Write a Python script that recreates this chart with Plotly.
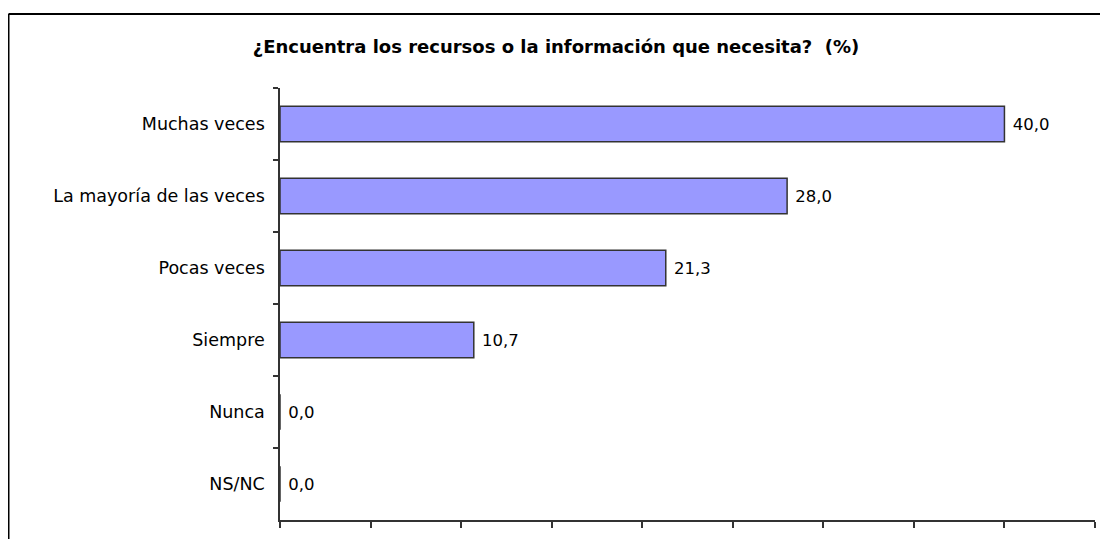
import plotly.graph_objects as go

categories = ["Muchas veces", "La mayoría de las veces", "Pocas veces", "Siempre", "Nunca", "NS/NC"]
values = [40.0, 28.0, 21.3, 10.7, 0.0, 0.0]
labels = ["40,0", "28,0", "21,3", "10,7", "0,0", "0,0"]
title = "¿Encuentra los recursos o la información que necesita?  (%)"

# page has an 8px body margin, so the figure is placed at (8, 8)
W, H = 1100, 531
L, R, T, B = 272, 13, 80, 19
pw, ph = W - L - R, H - T - B
FONT = "DejaVu Sans, Verdana, sans-serif"

fig = go.Figure(go.Bar(
    y=categories, x=values, orientation="h",
    text=[" " + s for s in labels], textposition="outside",
    textfont=dict(family=FONT, size=16.5, color="#000"),
    marker=dict(color="#9999FF", line=dict(color="#333333", width=1.5)),
    cliponaxis=False,
))

fig.update_layout(
    width=W, height=H,
    margin=dict(l=L, r=R, t=T, b=B),
    paper_bgcolor="white", plot_bgcolor="white",
    bargap=0.51, showlegend=False,
    title=dict(text="<b>" + title + "</b>", x=548 / W, xanchor="center",
               y=1 - 39 / H, yanchor="middle",
               font=dict(family=FONT, size=18, color="#000")),
    font=dict(family=FONT, size=17.5, color="#000"),
)
fig.update_xaxes(range=[0, 45], dtick=5, tick0=0, showgrid=False, zeroline=False,
                 showline=True, linecolor="#333", linewidth=1.5,
                 ticks="outside", ticklen=6, tickcolor="#333", tickwidth=1.5,
                 showticklabels=False, fixedrange=True)
fig.update_yaxes(autorange="reversed", showgrid=False, zeroline=False,
                 showline=True, linecolor="#333", linewidth=1.5,
                 ticks="outside", ticklen=5, tickcolor="#333", tickwidth=1.5,
                 tickson="boundaries", ticklabelstandoff=10,
                 tickfont=dict(family=FONT, size=17.5, color="#000"))

fx = (0.5 - L) / pw
fy = 1 + (T - 6) / ph
fig.add_shape(type="line", xref="paper", yref="paper", x0=fx, x1=fx, y0=fy, y1=-0.2,
              line=dict(color="#000", width=2))
fig.add_shape(type="line", xref="paper", yref="paper", x0=fx, x1=1.05, y0=fy, y1=fy,
              line=dict(color="#000", width=2))

fig.write_html("out.html")
